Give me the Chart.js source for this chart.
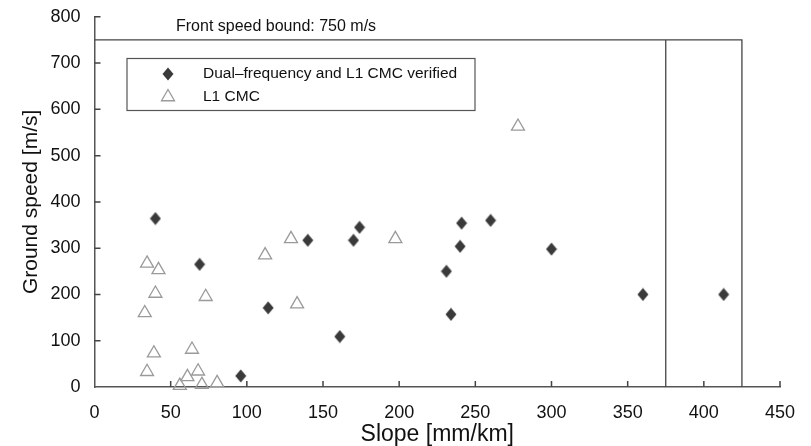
<!DOCTYPE html>
<html>
<head>
<meta charset="utf-8">
<script src="https://cdn.jsdelivr.net/npm/chart.js"></script>
<style>
  html, body { margin: 0; padding: 0; background: #fff; }
  #wrap { width: 811px; height: 446px; }
</style>
</head>
<body>
<div id="wrap"><canvas id="chart" width="811" height="446"></canvas></div>
<script>
// Data
const verifiedLabel = 'Dual\u2013frequency and L1 CMC verified';
const verifiedSlope = [40, 69, 96, 114, 140, 170, 174, 161, 231, 234, 240, 241, 260, 300, 360, 413];
const verifiedSpeed = [364, 265, 24, 171, 317, 317, 345, 109, 250, 157, 304, 354, 360, 298, 200, 200];

const cmcLabel = 'L1 CMC';
const cmcSlope = [34.5, 42, 40, 33, 39, 34.5, 64, 73, 68, 61, 56, 70.5, 80.5, 112, 129, 133, 197.5, 278];
const cmcSpeed = [267, 253, 202, 160, 73, 33, 81, 195, 34, 22, 3, 5, 9, 285, 320, 179, 320, 563];

const boundSpeed = 750;
const boundSlope = [375, 425];
const boundText = 'Front speed bound: 750 m/s';

const xTicks = [0, 50, 100, 150, 200, 250, 300, 350, 400, 450];
const yTicks = [0, 100, 200, 300, 400, 500, 600, 700, 800];

function pairs(xs, ys) {
  return xs.map((x, i) => ({ x: x, y: ys[i] }));
}

// diamond marker (a bit taller than wide, like the original)
const diamond = document.createElement('canvas');
diamond.width = 12;
diamond.height = 14;
(function() {
  const c = diamond.getContext('2d');
  c.fillStyle = '#3a3a3a';
  c.beginPath();
  c.moveTo(6, 0.5);
  c.lineTo(11.5, 7);
  c.lineTo(6, 13.5);
  c.lineTo(0.5, 7);
  c.closePath();
  c.fill();
})();

// inward tick marks, bound label and legend box
const extras = {
  id: 'extras',
  afterDatasetsDraw(chart) {
    const ctx = chart.ctx;
    const xs = chart.scales.x, ys = chart.scales.y;
    const area = chart.chartArea;
    ctx.save();
    ctx.strokeStyle = '#444';
    ctx.lineWidth = 1.5;
    ctx.beginPath();
    xTicks.forEach(v => {
      if (v === 0) return;
      const px = xs.getPixelForValue(v);
      ctx.moveTo(px, area.bottom);
      ctx.lineTo(px, area.bottom - 6);
    });
    yTicks.forEach(v => {
      if (v === 0) return;
      const py = ys.getPixelForValue(v);
      ctx.moveTo(area.left, py);
      ctx.lineTo(area.left + 6, py);
    });
    ctx.stroke();

    // bound label
    ctx.fillStyle = '#111';
    ctx.font = '16px "Liberation Sans", Arial, sans-serif';
    ctx.textBaseline = 'middle';
    ctx.textAlign = 'left';
    ctx.fillText(boundText, xs.getPixelForValue(53.5), ys.getPixelForValue(779));

    // legend
    const lx = 127, ly = 58.5, lw = 348, lh = 52;
    ctx.fillStyle = '#fff';
    ctx.fillRect(lx, ly, lw, lh);
    ctx.strokeStyle = '#555';
    ctx.lineWidth = 1.2;
    ctx.strokeRect(lx, ly, lw, lh);

    ctx.drawImage(diamond, 168 - 6, 74 - 7);
    ctx.strokeStyle = '#9a9a9a';
    ctx.lineWidth = 1.3;
    ctx.beginPath();
    ctx.moveTo(168, 97 - 7.5);
    ctx.lineTo(168 + 6.5, 97 + 3.75);
    ctx.lineTo(168 - 6.5, 97 + 3.75);
    ctx.closePath();
    ctx.stroke();

    ctx.fillStyle = '#111';
    ctx.font = '15.5px "Liberation Sans", Arial, sans-serif';
    ctx.fillText(verifiedLabel, 203, 74);
    ctx.fillText(cmcLabel, 203, 97);
    ctx.restore();
  }
};

const ctx = document.getElementById('chart');
new Chart(ctx, {
  type: 'scatter',
  data: {
    datasets: [
      {
        label: 'bound',
        type: 'line',
        data: [{ x: 0, y: boundSpeed }, { x: boundSlope[1], y: boundSpeed }, { x: boundSlope[1], y: 0 }],
        borderColor: '#444',
        borderWidth: 1.3,
        pointRadius: 0,
        fill: false,
        tension: 0
      },
      {
        label: 'bound2',
        type: 'line',
        data: [{ x: boundSlope[0], y: boundSpeed }, { x: boundSlope[0], y: 0 }],
        borderColor: '#444',
        borderWidth: 1.3,
        pointRadius: 0,
        fill: false
      },
      {
        label: cmcLabel,
        data: pairs(cmcSlope, cmcSpeed),
        pointStyle: 'triangle',
        pointRadius: 7.5,
        pointBorderWidth: 1.3,
        borderColor: '#9a9a9a',
        backgroundColor: 'rgba(0,0,0,0)',
        clip: false
      },
      {
        label: verifiedLabel,
        data: pairs(verifiedSlope, verifiedSpeed),
        pointStyle: diamond,
        pointRadius: 7,
        clip: false
      }
    ]
  },
  options: {
    responsive: false,
    animation: false,
    devicePixelRatio: 1,
    layout: { padding: { top: 13.4, right: 31, bottom: 0, left: 0 } },
    plugins: {
      legend: { display: false },
      tooltip: { enabled: false }
    },
    scales: {
      x: {
        type: 'linear',
        min: 0,
        max: 450,
        afterBuildTicks: (scale) => { scale.ticks = xTicks.map(v => ({ value: v })); },
        afterFit: (scale) => { scale.height = 59; },
        grid: { display: false },
        border: { display: true, color: '#555', width: 1.5 },
        ticks: {
          color: '#111',
          padding: 7,
          font: { size: 18, family: '"Liberation Sans", Arial, sans-serif' },
          maxRotation: 0,
          autoSkip: false
        },
        title: {
          display: true,
          text: 'Slope [mm/km]',
          color: '#111',
          padding: { top: 0, bottom: 0 },
          font: { size: 23, family: '"Liberation Sans", Arial, sans-serif', lineHeight: 1 }
        }
      },
      y: {
        type: 'linear',
        min: 0,
        max: 800,
        afterBuildTicks: (scale) => { scale.ticks = yTicks.map(v => ({ value: v })); },
        afterFit: (scale) => { scale.width = 94.5; },
        grid: { display: false },
        border: { display: true, color: '#555', width: 1.5 },
        ticks: {
          color: '#111',
          padding: 6,
          font: { size: 18, family: '"Liberation Sans", Arial, sans-serif' },
          autoSkip: false
        },
        title: {
          display: true,
          text: 'Ground speed [m/s]',
          color: '#111',
          padding: { top: 19, bottom: 0 },
          font: { size: 21, family: '"Liberation Sans", Arial, sans-serif' }
        }
      }
    }
  },
  plugins: [extras]
});
</script>
</body>
</html>
